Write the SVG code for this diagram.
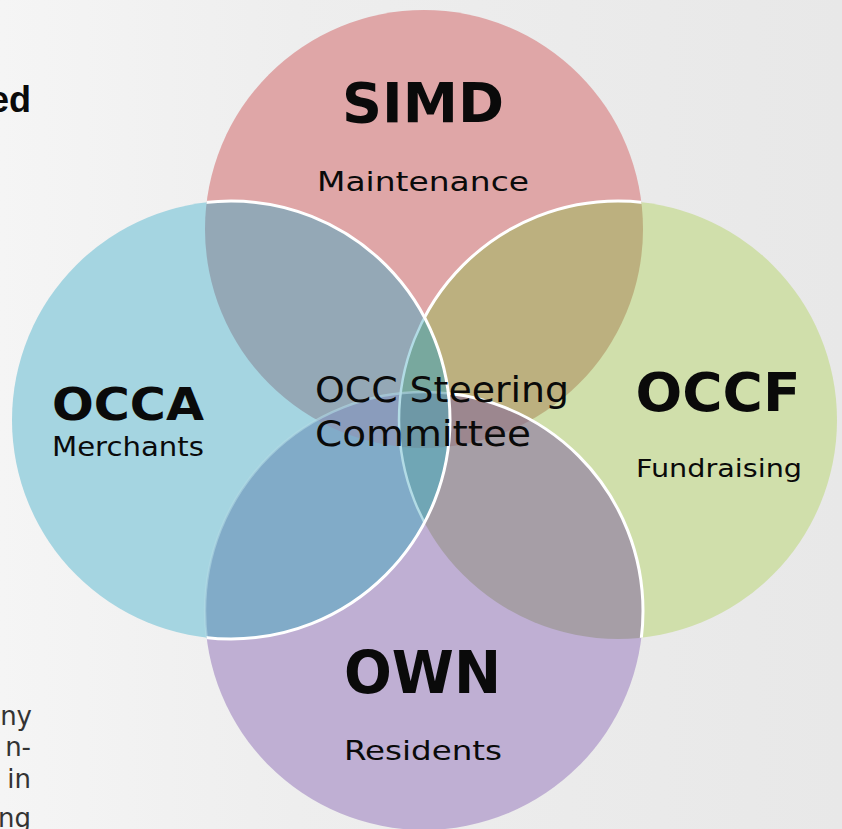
<svg xmlns="http://www.w3.org/2000/svg" xmlns:xlink="http://www.w3.org/1999/xlink" width="842" height="829" viewBox="0 0 842 829">
  <style>
    .lbl { font-family: "DejaVu Sans", "Liberation Sans", sans-serif; fill: #0a0a0a; }
    .big { font-weight: bold; }
    .side { font-family: "DejaVu Sans", "Liberation Sans", sans-serif; fill: #333; font-size: 26px; }
    .ring { fill: none; stroke: #ffffff; stroke-width: 3; }
    .ring-pale { fill: none; stroke: #b2dbe5; stroke-width: 2.5; }
  </style>
  <defs>
    <linearGradient id="bg" x1="0" y1="0" x2="1" y2="0">
      <stop offset="0" stop-color="#f5f5f5"/>
      <stop offset="0.35" stop-color="#eeeeee"/>
      <stop offset="1" stop-color="#e8e8e8"/>
    </linearGradient>
    <!-- the four circles -->
    <circle id="cS" cx="424" cy="229" r="219"/>
    <circle id="cA" cx="231" cy="420" r="219"/>
    <circle id="cF" cx="618" cy="420" r="219"/>
    <circle id="cW" cx="424" cy="611" r="219"/>
    <clipPath id="inS"><use xlink:href="#cS"/></clipPath>
    <clipPath id="inA"><use xlink:href="#cA"/></clipPath>
    <clipPath id="inF"><use xlink:href="#cF"/></clipPath>
    <clipPath id="inW"><use xlink:href="#cW"/></clipPath>
    <!-- unions used to keep outlines off the backdrop -->
    <clipPath id="inSF"><use xlink:href="#cS"/><use xlink:href="#cF"/></clipPath>
    <clipPath id="inSFW"><use xlink:href="#cS"/><use xlink:href="#cF"/><use xlink:href="#cW"/></clipPath>
    <mask id="outA">
      <rect width="842" height="829" fill="#fff"/>
      <use xlink:href="#cA" fill="#000"/>
    </mask>
    <mask id="outAW">
      <rect width="842" height="829" fill="#fff"/>
      <use xlink:href="#cA" fill="#000"/>
      <use xlink:href="#cW" fill="#000"/>
    </mask>
  </defs>

  <!-- backdrop -->
  <rect width="842" height="829" fill="url(#bg)"/>

  <!-- page text running off the left edge -->
  <g id="page-text">
    <text x="31" y="112" text-anchor="end" font-family="Liberation Sans, Arial, sans-serif" font-weight="bold" font-size="36" fill="#0a0a0a">ed</text>
    <text class="side" x="32" y="725" text-anchor="end">ny</text>
    <text class="side" x="31" y="756" text-anchor="end">n-</text>
    <text class="side" x="31" y="788" text-anchor="end">in</text>
    <text class="side" x="31" y="827" text-anchor="end">ng</text>
  </g>

  <!-- single-circle areas and their labels -->
  <g id="node-simd">
    <use xlink:href="#cS" fill="#dfa6a7"/>
    <text class="lbl big" x="423" y="122" font-size="56" text-anchor="middle" textLength="162" lengthAdjust="spacingAndGlyphs">SIMD</text>
    <text class="lbl" x="423" y="191" font-size="26" text-anchor="middle" textLength="212" lengthAdjust="spacingAndGlyphs">Maintenance</text>
  </g>
  <g id="node-occf">
    <use xlink:href="#cF" fill="#d0dfab"/>
    <text class="lbl big" x="718" y="411" font-size="53" text-anchor="middle" textLength="165" lengthAdjust="spacingAndGlyphs">OCCF</text>
    <text class="lbl" x="719" y="477" font-size="24" text-anchor="middle" textLength="166" lengthAdjust="spacingAndGlyphs">Fundraising</text>
  </g>
  <g id="node-own">
    <use xlink:href="#cW" fill="#bfafd3"/>
    <text class="lbl big" x="422.5" y="693" font-size="59" text-anchor="middle" textLength="157" lengthAdjust="spacingAndGlyphs">OWN</text>
    <text class="lbl" x="423" y="760" font-size="27" text-anchor="middle" textLength="158" lengthAdjust="spacingAndGlyphs">Residents</text>
  </g>
  <g id="node-occa">
    <use xlink:href="#cA" fill="#a5d5e1"/>
    <text class="lbl big" x="128" y="420" font-size="45" text-anchor="middle" textLength="152" lengthAdjust="spacingAndGlyphs">OCCA</text>
    <text class="lbl" x="128" y="456" font-size="27" text-anchor="middle" textLength="152" lengthAdjust="spacingAndGlyphs">Merchants</text>
  </g>

  <!-- overlap areas -->
  <g id="overlaps">
    <!-- pairs -->
    <g clip-path="url(#inS)">
      <use xlink:href="#cA" fill="#94a8b6"/>
      <use xlink:href="#cF" fill="#bcb07f"/>
      <use xlink:href="#cW" fill="#9a90a6"/>
    </g>
    <g clip-path="url(#inA)">
      <use xlink:href="#cW" fill="#81abc8"/>
      <use xlink:href="#cF" fill="#74a6ad"/>
    </g>
    <g clip-path="url(#inF)">
      <use xlink:href="#cW" fill="#a69ea6"/>
    </g>
    <!-- triples -->
    <g clip-path="url(#inS)">
      <g clip-path="url(#inA)">
        <use xlink:href="#cF" fill="#78a89e"/>
        <use xlink:href="#cW" fill="#8a9cbc"/>
      </g>
      <g clip-path="url(#inF)">
        <use xlink:href="#cW" fill="#9c878f"/>
      </g>
    </g>
    <g clip-path="url(#inA)">
      <g clip-path="url(#inF)">
        <use xlink:href="#cW" fill="#70a6b5"/>
      </g>
    </g>
    <!-- all four -->
    <g clip-path="url(#inS)">
      <g clip-path="url(#inA)">
        <g clip-path="url(#inF)">
          <use xlink:href="#cW" fill="#6e98a6"/>
        </g>
      </g>
    </g>
  </g>

  <!-- circle outlines, stacked SIMD < OCCF < OWN < OCCA; only seen over other circles -->
  <g id="outlines">
    <g clip-path="url(#inS)">
      <use xlink:href="#cF" class="ring" mask="url(#outAW)"/>
    </g>
    <g clip-path="url(#inA)">
      <use xlink:href="#cF" class="ring-pale"/>
      <use xlink:href="#cW" class="ring-pale" opacity="0.6"/>
    </g>
    <g clip-path="url(#inSF)">
      <use xlink:href="#cW" class="ring" mask="url(#outA)"/>
    </g>
    <g clip-path="url(#inSFW)">
      <use xlink:href="#cA" class="ring"/>
    </g>
  </g>

  <!-- centre label -->
  <g id="node-steering">
    <text class="lbl" x="315" y="402" font-size="36" textLength="254" lengthAdjust="spacingAndGlyphs">OCC Steering</text>
    <text class="lbl" x="315" y="446" font-size="36" textLength="216" lengthAdjust="spacingAndGlyphs">Committee</text>
  </g>
</svg>
